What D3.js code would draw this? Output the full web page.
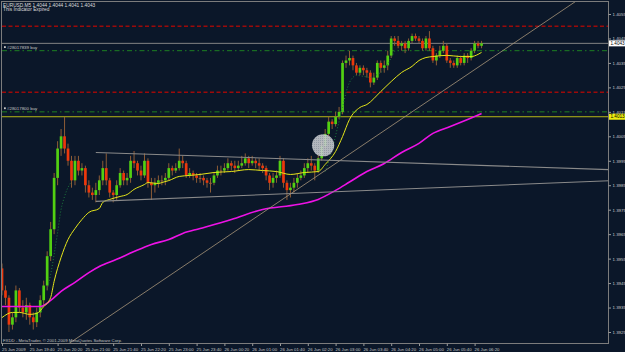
<!DOCTYPE html>
<html lang="en">
<head>
<meta charset="utf-8">
<title>EURUSD,M5</title>
<script src="https://d3js.org/d3.v7.min.js"></script>
<style>
  body { margin: 0; background: #0b1729; }
  svg { display: block; }
  text { font-family: "Liberation Sans", Arial, sans-serif; }
</style>
</head>
<body>
<svg id="chart" width="625" height="352"></svg>
<script>
// EURUSD M5, 25 Jun 19:00 -> 26 Jun 06:30 (one value per 5 min bar)
var firstOpen = 1.3951;

var closes = [
  1.3942,1.3939,1.3928,1.3931,1.3942,1.3935,1.3933,1.3936,1.3931,1.3929,
  1.3933,1.3938,1.3944,1.3956,1.3967,1.3988,1.4000,1.4005,1.4000,1.3995,
  1.3987,1.3995,1.3991,1.3992,1.3985,1.3982,1.3981,1.3983,1.3987,1.3992,
  1.3987,1.3982,1.3981,1.3985,1.3990,1.3987,1.3988,1.3995,1.3994,1.3991,
  1.3989,1.3995,1.3986,1.3985,1.3986,1.3987,1.3987,1.3988,1.3992,1.3991,
  1.3992,1.3995,1.3994,1.3989,1.3990,1.3989,1.3988,1.3988,1.3987,1.3986,
  1.3986,1.3989,1.3991,1.3991,1.3992,1.3994,1.3993,1.3992,1.3993,1.3994,
  1.3996,1.3994,1.3995,1.3994,1.3993,1.3992,1.3989,1.3986,1.3988,1.3989,
  1.3995,1.3986,1.3983,1.3984,1.3986,1.3988,1.3989,1.3992,1.3994,1.3993,
  1.3991,1.3996,1.4001,1.4006,1.4011,1.4010,1.4013,1.4015,1.4035,1.4036,
  1.4037,1.4034,1.4031,1.4033,1.4032,1.4031,1.4027,1.4029,1.4035,1.4033,
  1.4034,1.4038,1.4045,1.4044,1.4042,1.4043,1.4041,1.4044,1.4046,1.4045,
  1.4044,1.4041,1.4045,1.4041,1.4036,1.4038,1.4040,1.4042,1.4036,1.4035,
  1.4034,1.4037,1.4035,1.4038,1.4037,1.4040,1.4043,1.4042,1.4043
];

var highs = [
  1.3953,1.3944,1.3940,1.3933,1.3944,1.3943,1.3938,1.3939,1.3937,1.3933,
  1.3935,1.3940,1.3946,1.3958,1.3970,1.3990,1.4003,1.4008,1.4013,1.4002,
  1.3997,1.3997,1.3997,1.3994,1.3993,1.3987,1.3984,1.3986,1.3989,1.3995,
  1.3998,1.3988,1.3983,1.3987,1.3992,1.3991,1.3990,1.3997,1.3999,1.3995,
  1.3993,1.3998,1.3996,1.3988,1.3988,1.3989,1.3989,1.3990,1.3994,1.3993,
  1.3994,1.4000,1.3997,1.3995,1.3992,1.3991,1.3990,1.3990,1.3989,1.3988,
  1.3988,1.3990,1.3993,1.3993,1.3994,1.3996,1.3995,1.3995,1.3995,1.3997,
  1.3998,1.3997,1.3997,1.3996,1.3996,1.3994,1.3993,1.3990,1.3990,1.3991,
  1.3997,1.3996,1.3987,1.3986,1.3988,1.3990,1.3991,1.3994,1.3996,1.3997,
  1.3994,1.3998,1.4003,1.4008,1.4013,1.4012,1.4015,1.4017,1.4036,1.4038,
  1.4040,1.4038,1.4035,1.4034,1.4034,1.4033,1.4032,1.4031,1.4036,1.4036,
  1.4036,1.4040,1.4046,1.4046,1.4046,1.4044,1.4044,1.4045,1.4047,1.4047,
  1.4046,1.4045,1.4046,1.4048,1.4042,1.4039,1.4042,1.4044,1.4043,1.4037,
  1.4036,1.4038,1.4038,1.4039,1.4039,1.4041,1.4044,1.4044,1.4044
];

var lows = [
  1.3940,1.3936,1.3925,1.3926,1.3929,1.3933,1.3931,1.3930,1.3928,1.3926,
  1.3927,1.3931,1.3936,1.3942,1.3954,1.3965,1.3985,1.3997,1.3998,1.3993,
  1.3984,1.3985,1.3989,1.3989,1.3982,1.3980,1.3979,1.3978,1.3981,1.3985,
  1.3985,1.3980,1.3978,1.3979,1.3984,1.3985,1.3985,1.3986,1.3992,1.3989,
  1.3987,1.3988,1.3984,1.3979,1.3982,1.3984,1.3985,1.3985,1.3987,1.3989,
  1.3990,1.3991,1.3992,1.3988,1.3988,1.3987,1.3986,1.3986,1.3985,1.3984,
  1.3982,1.3985,1.3988,1.3989,1.3990,1.3991,1.3991,1.3990,1.3991,1.3992,
  1.3993,1.3992,1.3993,1.3992,1.3991,1.3990,1.3987,1.3983,1.3984,1.3986,
  1.3988,1.3984,1.3979,1.3980,1.3982,1.3984,1.3987,1.3988,1.3990,1.3991,
  1.3987,1.3990,1.3995,1.4000,1.4004,1.4008,1.4009,1.4012,1.4014,1.4033,
  1.4034,1.4032,1.4030,1.4030,1.4030,1.4029,1.4025,1.4026,1.4028,1.4031,
  1.4031,1.4032,1.4037,1.4042,1.4041,1.4040,1.4039,1.4040,1.4043,1.4044,
  1.4043,1.4040,1.4040,1.4040,1.4035,1.4034,1.4037,1.4039,1.4035,1.4033,
  1.4033,1.4033,1.4034,1.4034,1.4035,1.4036,1.4039,1.4041,1.4041
];

// indicator lines: [bar, price]
var yellowMA = [
  [0,1.39309],[3,1.39330],[5,1.39330],[8,1.39322],[10,1.39326],[12,1.39354],
  [14,1.39391],[15,1.39457],[17,1.39555],[19,1.39628],[21,1.39673],[23,1.39710],
  [25,1.39739],[28,1.39755],[29,1.39780],[31,1.39792],[34,1.39804],[36,1.39812],
  [38,1.39833],[41,1.39853],[42,1.39861],[45,1.39857],[46,1.39861],[48,1.39869],
  [51,1.39886],[54,1.39890],[57,1.39894],[61,1.39902],[66,1.39906],[71,1.39914],
  [75,1.39910],[79,1.39906],[83,1.39894],[87,1.39902],[91,1.39906],[93,1.39935],
  [96,1.39988],[98,1.40049],[100,1.40119],[103,1.40168],[105,1.40180],[109,1.40233],
  [112,1.40274],[115,1.40311],[118,1.40336],[120,1.40360],[122,1.40372],[124,1.40376],
  [128,1.40381],[132,1.40376],[135,1.40376],[137,1.40385],[138,1.40393]
];
var magentaMA = [
  [0,1.39354],[11,1.39354],[14,1.39379],[17,1.39416],[21,1.39453],[25,1.39493],
  [28,1.39518],[33,1.39547],[38,1.39579],[43,1.39608],[48,1.39628],[52,1.39653],
  [57,1.39673],[66,1.39710],[75,1.39751],[85,1.39771],[91,1.39792],[96,1.39829],
  [100,1.39863],[105,1.39906],[110,1.39939],[115,1.39984],[120,1.40021],[124,1.40062],
  [129,1.40090],[134,1.40119],[138,1.40143]
];
var dottedMA1 = [
  [13,1.39424],[14,1.39485],[15,1.39567],[16,1.39657],[17,1.39751],[18,1.39804],
  [19,1.39841],[20,1.39865]
];
var dottedMA2 = [
  [93,1.39906],[94,1.39947],[95,1.39996],[96,1.40053],[97,1.40111],[98,1.40168],
  [99,1.40229],[100,1.40270],[101,1.40291],[102,1.40299],[104,1.40295],[106,1.40291],
  [108,1.40303],[109,1.40311],[110,1.40323],[111,1.40344],[112,1.40372],[113,1.40397]
];

var priceTicks = [1.4055,1.4045,1.4035,1.4025,1.4015,1.4005,1.3995,1.3985,
                  1.3975,1.3965,1.3955,1.3945,1.3935,1.3925];
var timeBars = [0,8,16,24,32,40,48,56,64,72,80,88,96,104,112,120,128,136];
var timeLabels = ["25 Jun 2009","25 Jun 19:40","25 Jun 20:20","25 Jun 21:00","25 Jun 21:40",
  "25 Jun 22:20","25 Jun 23:00","25 Jun 23:40","26 Jun 00:20","26 Jun 01:00","26 Jun 01:40",
  "26 Jun 02:20","26 Jun 03:00","26 Jun 03:40","26 Jun 04:20","26 Jun 05:00","26 Jun 05:40",
  "26 Jun 06:20"];

var bidPrice = 1.4043;
var levelLines = [
  {price: 1.4050, kind: 'stop'},
  {price: 1.4023, kind: 'stop'},
  {price: 1.4040, kind: 'order', label: '#28017839 buy'},
  {price: 1.4015, kind: 'order', label: '#28017800 buy'}
];
var alertLevel = 1.4013;

// drawn objects: two anchor points [bar, price]
var diagonalLine = [[20, 1.3921], [130, 1.40265]];
var channelTop = [[27, 1.39984], [174, 1.39914]];
var channelBottom = [[27, 1.39784], [174, 1.39868]];
var ellipseMark = {bar: 92.4, price: 1.40013, bars: 3.2, pips: 0.00045};

var titleLine = "EURUSD,M5  1.4044 1.4044 1.4041 1.4043";

var svg = d3.select('#chart');
var plotL = 2, plotT = 2, plotR = 609, plotB = 344;

var x = d3.scaleLinear().domain([0, 172]).range([2, 2 + 172 * 3.475]);
var y = d3.scaleLinear().domain([1.3925, 1.4055]).range([332, 14]);

var defs = svg.append('defs');
defs.append('clipPath').attr('id', 'plotclip')
  .append('rect').attr('x', plotL).attr('y', plotT)
  .attr('width', plotR - plotL).attr('height', plotB - plotT);

svg.append('rect').attr('width', 625).attr('height', 352).attr('fill', '#0b1729');

var g = svg.append('g').attr('clip-path', 'url(#plotclip)');

// horizontal levels
g.selectAll('line.level').data(levelLines).enter().append('line')
  .attr('x1', plotL).attr('x2', plotR)
  .attr('y1', function(d){ return y(d.price); })
  .attr('y2', function(d){ return y(d.price); })
  .attr('stroke', function(d){ return d.kind == 'stop' ? '#9c0a0a' : '#1d8022'; })
  .attr('stroke-width', function(d){ return d.kind == 'stop' ? 1.5 : 1; })
  .attr('stroke-dasharray', function(d){ return d.kind == 'stop' ? '4,2.5' : '5,3,1.5,3'; });

g.append('line').attr('x1', plotL).attr('x2', plotR)
  .attr('y1', y(alertLevel)).attr('y2', y(alertLevel))
  .attr('stroke', '#b8b815').attr('stroke-width', 1);

g.append('line').attr('x1', plotL).attr('x2', plotR)
  .attr('y1', y(bidPrice)).attr('y2', y(bidPrice))
  .attr('stroke', '#848484').attr('stroke-width', 1);

// candles
var bars = closes.map(function(c, i){
  return {i: i, o: i ? closes[i - 1] : firstOpen, h: highs[i], l: lows[i], c: c};
});

g.selectAll('line.wick').data(bars).enter().append('line')
  .attr('x1', function(d){ return x(d.i); })
  .attr('x2', function(d){ return x(d.i); })
  .attr('y1', function(d){ return y(d.h); })
  .attr('y2', function(d){ return y(d.l); })
  .attr('stroke', '#9c6438').attr('stroke-width', 0.9);

g.selectAll('rect.body').data(bars).enter().append('rect')
  .attr('x', function(d){ return x(d.i) - 1.35; })
  .attr('width', 2.7)
  .attr('y', function(d){ return y(Math.max(d.o, d.c)); })
  .attr('height', function(d){ return Math.max(1, Math.abs(y(d.o) - y(d.c))); })
  .attr('fill', function(d){
    if (d.c == d.o) return '#9c6438';
    return d.c > d.o ? '#52d012' : '#ec380c';
  });

// moving averages
var line = d3.line()
  .x(function(d){ return x(d[0]); })
  .y(function(d){ return y(d[1]); })
  .curve(d3.curveMonotoneX);

[dottedMA1, dottedMA2].forEach(function(seg){
  g.append('path').attr('d', line(seg)).attr('fill', 'none')
    .attr('stroke', '#1c7a3c').attr('stroke-width', 1).attr('stroke-dasharray', '1,2');
});
g.append('path').attr('d', line(magentaMA)).attr('fill', 'none')
  .attr('stroke', '#ee12e6').attr('stroke-width', 1.6);
g.append('path').attr('d', line(yellowMA)).attr('fill', 'none')
  .attr('stroke', '#e6e61a').attr('stroke-width', 1);

// trend lines
function extend(pts, fromBar, toBar) {
  var s = (pts[1][1] - pts[0][1]) / (pts[1][0] - pts[0][0]);
  return [[fromBar, pts[0][1] + s * (fromBar - pts[0][0])],
          [toBar, pts[0][1] + s * (toBar - pts[0][0])]];
}
var straight = d3.line().x(function(d){ return x(d[0]); }).y(function(d){ return y(d[1]); });

g.append('path').attr('d', straight(extend(diagonalLine, -2, 178)))
  .attr('stroke', '#a8967a').attr('stroke-width', 0.8).attr('fill', 'none');
[channelTop, channelBottom].forEach(function(pts){
  g.append('path').attr('d', straight(extend(pts, pts[0][0], 178)))
    .attr('stroke', '#8a8a8a').attr('stroke-width', 1.1).attr('fill', 'none');
});

// ellipse
var pat = defs.append('pattern').attr('id', 'dots')
  .attr('width', 2).attr('height', 2).attr('patternUnits', 'userSpaceOnUse');
pat.append('rect').attr('width', 2).attr('height', 2).attr('fill', '#c6c9cd');
pat.append('rect').attr('width', 1).attr('height', 1).attr('fill', '#a4abb4');

g.append('ellipse')
  .attr('cx', x(ellipseMark.bar)).attr('cy', y(ellipseMark.price))
  .attr('rx', x(ellipseMark.bar + ellipseMark.bars) - x(ellipseMark.bar))
  .attr('ry', y(ellipseMark.price - ellipseMark.pips) - y(ellipseMark.price))
  .attr('fill', 'url(#dots)').attr('opacity', 0.9);

// order labels
var orders = levelLines.filter(function(d){ return d.label; });
g.selectAll('rect.mark').data(orders).enter().append('rect')
  .attr('x', 4).attr('y', function(d){ return y(d.price) - 4.5; })
  .attr('width', 1.8).attr('height', 1.8).attr('fill', '#c8c8c8');
g.selectAll('text.order').data(orders).enter().append('text')
  .attr('x', 7).attr('y', function(d){ return y(d.price) - 1.6; })
  .attr('font-size', 4.4).attr('fill', '#c4c4c4')
  .text(function(d){ return d.label; });

// frame
svg.append('rect').attr('x', plotL - 0.5).attr('y', plotT - 0.5)
  .attr('width', plotR - plotL).attr('height', plotB - plotT)
  .attr('fill', 'none').attr('stroke', '#7c7c7c').attr('stroke-width', 1);

// price axis
var yAxis = d3.axisRight(y).tickValues(priceTicks).tickSize(2.5).tickPadding(1.5)
  .tickFormat(d3.format('.4f'));
var ya = svg.append('g').attr('transform', 'translate(' + (plotR - 0.5) + ',0)').call(yAxis);
ya.select('.domain').remove();
ya.selectAll('line').attr('stroke', '#9a9a9a');
ya.selectAll('text').attr('fill', '#c8c8c8').attr('font-size', 4.4)
  .attr('font-family', '"Liberation Sans", Arial, sans-serif');

// price boxes
function priceBox(p, bg) {
  svg.append('rect').attr('x', plotR).attr('y', y(p) - 3).attr('width', 16).attr('height', 6)
    .attr('fill', bg);
  svg.append('text').attr('x', plotR + 1.5).attr('y', y(p) + 1.7)
    .attr('font-size', 4.6).attr('fill', '#000').text(d3.format('.4f')(p));
}
priceBox(bidPrice, '#ffffff');
priceBox(alertLevel, '#eeee10');

// time axis
var xAxis = d3.axisBottom(x).tickValues(timeBars).tickSize(2.5)
  .tickFormat(function(d, i){ return timeLabels[i]; });
var xa = svg.append('g').attr('transform', 'translate(0,' + (plotB - 0.5) + ')').call(xAxis);
xa.select('.domain').remove();
xa.selectAll('line').attr('stroke', '#9a9a9a');
xa.selectAll('text').attr('fill', '#c8c8c8').attr('font-size', 4.3)
  .attr('font-family', '"Liberation Sans", Arial, sans-serif')
  .attr('text-anchor', 'start').attr('x', -0.5).attr('y', 4);

// captions
svg.append('text').attr('x', 3).attr('y', 6.6).attr('font-size', 4.8)
  .attr('fill', '#dcdcdc').text(titleLine);
svg.append('text').attr('x', 3).attr('y', 11.4).attr('font-size', 4.8)
  .attr('fill', '#dcdcdc').text('This Indicator Expired');
svg.append('text').attr('x', 3).attr('y', 342.3).attr('font-size', 4.3)
  .attr('fill', '#c0c0c0').text('FXDD - MetaTrader, \u00a9 2001-2009 MetaQuotes Software Corp.');
</script>
</body>
</html>
